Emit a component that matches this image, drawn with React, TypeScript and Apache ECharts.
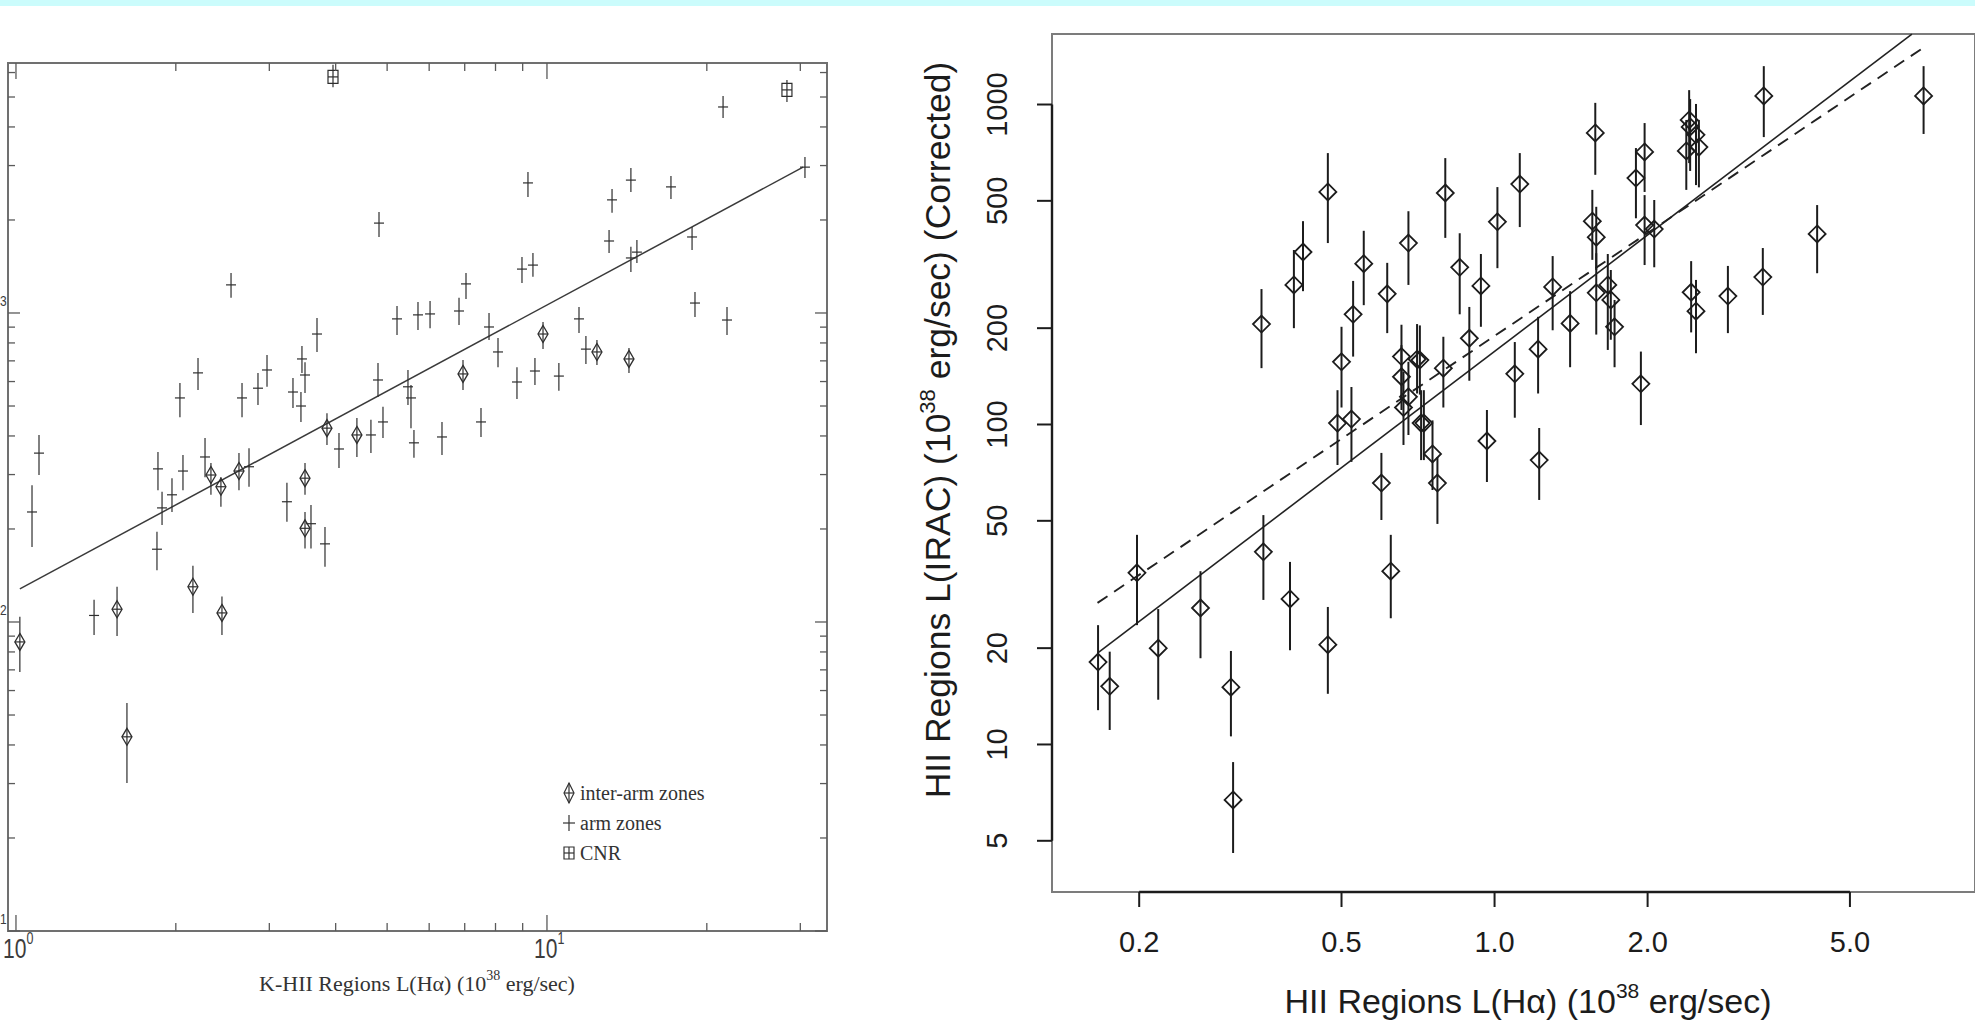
import React, { useEffect, useRef } from 'react';
import * as echarts from 'echarts';

const W = 1975;
const H = 1034;

// ---------------- Left panel (K-HII regions) ----------------
const L_XMIN = 0.966, L_XMAX = 33.68, L_YMIN = 10, L_YMAX = 6442;

// arm zones (+)
const armX = [1.072, 1.105, 1.403, 1.843, 1.851, 1.884, 1.967, 2.036, 2.063, 2.202, 2.27, 2.541, 2.665, 2.747, 2.856, 2.97, 3.238, 3.324, 3.441, 3.456, 3.502, 3.594, 3.689, 3.819, 4.058, 4.661, 4.806, 4.827, 4.911, 5.219, 5.473, 5.545, 5.617, 5.716, 6.023, 6.343, 6.829, 7.039, 7.512, 7.778, 8.087, 8.78, 8.973, 9.209, 9.41, 9.492, 10.53, 11.49, 11.84, 13.09, 13.26, 14.39, 14.39, 14.77, 17.12, 18.76, 19.0, 21.46, 21.83, 30.61];
const armY = [227, 352, 105, 172, 313, 234, 258, 531, 308, 640, 342, 1233, 531, 318, 571, 654, 245, 555, 500, 710, 630, 208, 855, 179, 363, 403, 607, 1954, 444, 957, 577, 531, 380, 986, 993, 397, 1015, 1242, 444, 901, 748, 598, 1387, 2636, 1429, 649, 625, 957, 764, 1710, 2323, 2692, 1507, 1574, 2559, 1762, 1077, 4642, 949, 2965];
const armLo = [175, 299, 90.8, 147, 267, 206, 227, 460, 267, 563, 294, 1120, 460, 274, 504, 577, 211, 493, 444, 640, 551, 173, 748, 151, 315, 352, 535, 1762, 394, 849, 504, 424, 340, 881, 893, 347, 914, 1109, 397, 818, 668, 527, 1250, 2372, 1309, 585, 560, 861, 684, 1563, 2109, 2465, 1358, 1452, 2339, 1599, 971, 4276, 849, 2735];
const armHi = [277, 403, 118, 196, 355, 264, 292, 593, 347, 715, 394, 1346, 593, 365, 640, 731, 282, 616, 555, 782, 693, 239, 964, 203, 409, 451, 689, 2123, 497, 1054, 654, 585, 418, 1086, 1094, 444, 1120, 1346, 493, 1000, 830, 668, 1517, 2858, 1563, 715, 689, 1045, 843, 1857, 2518, 2944, 1637, 1722, 2773, 1897, 1169, 5035, 1045, 3199];

// inter-arm zones (diamonds)
const interX = [1.017, 1.55, 1.618, 2.154, 2.329, 2.432, 2.443, 2.63, 3.502, 3.502, 3.852, 4.386, 6.948, 9.83, 12.42, 14.27];
const interY = [86.2, 110, 42.5, 130, 299, 274, 107, 308, 292, 201, 424, 403, 635, 855, 748, 710];
const interLo = [68.9, 90.1, 30.1, 107, 258, 236, 90.8, 267, 258, 173, 374, 342, 563, 764, 679, 640];
const interHi = [104, 130, 54.7, 152, 327, 294, 121, 352, 327, 227, 474, 457, 705, 935, 818, 771];

// CNR (squares)
const cnrX = [3.954, 28.31];
const cnrY = [5808, 5272];
const cnrLo = [5382, 4820];
const cnrHi = [6356, 5677];

// fit line
const leftFitX = [1.017, 30.36];
const leftFitY = [128, 2965];

const leftXTicks = [1, 2, 3, 4, 5, 6, 7, 8, 9, 10, 20, 30];
const leftYTicks = [10, 20, 30, 40, 50, 60, 70, 80, 90, 100, 200, 300, 400, 500, 600, 700, 800, 900, 1000, 2000, 3000, 4000, 5000, 6000];

const legendLabels = ['inter-arm zones', 'arm zones', 'CNR'];
const leftXTitle = 'K-HII Regions L(Hα) (10{s|38} erg/sec)';

// ---------------- Right panel (HII regions) ----------------
const R_XMIN = 0.13475, R_XMAX = 8.81, R_YMIN = 3.459, R_YMAX = 1661;

const rX = [0.166, 0.175, 0.198, 0.218, 0.264, 0.303, 0.306, 0.348, 0.351, 0.396, 0.403, 0.42, 0.47, 0.47, 0.491, 0.5, 0.523, 0.527, 0.553, 0.599, 0.615, 0.625, 0.656, 0.656, 0.662, 0.677, 0.677, 0.704, 0.713, 0.717, 0.726, 0.755, 0.772, 0.793, 0.8, 0.854, 0.892, 0.94, 0.966, 1.013, 1.096, 1.121, 1.218, 1.224, 1.301, 1.408, 1.557, 1.578, 1.585, 1.585, 1.67, 1.693, 1.722, 1.897, 1.94, 1.973, 1.973, 2.061, 2.383, 2.414, 2.425, 2.49, 2.523, 2.436, 2.49, 2.877, 3.37, 3.385, 4.31, 6.98];
const rY = [18.1, 15.2, 34.4, 20.0, 26.7, 15.1, 6.71, 206, 40.0, 28.5, 273, 346, 533, 20.5, 101, 157, 104, 221, 318, 65.6, 256, 34.8, 163, 141, 113, 122, 369, 160, 159, 101, 101, 80.9, 65.6, 150, 529, 310, 186, 271, 88.8, 430, 144, 564, 172, 77.4, 269, 207, 432, 815, 385, 258, 273, 245, 202, 589, 134, 711, 420, 408, 716, 895, 851, 804, 736, 259, 226, 252, 289, 1064, 394, 1064];
const rLo = [12.8, 11.1, 23.6, 13.8, 18.6, 10.6, 4.58, 150, 28.3, 19.7, 200, 261, 369, 14.4, 74.7, 113, 76.4, 163, 236, 50.3, 193, 24.8, 119, 111, 86.3, 92.7, 273, 125, 124, 77.4, 77.4, 62.4, 48.9, 113, 383, 221, 137, 202, 66.1, 308, 105, 414, 125, 58.1, 197, 151, 327, 603, 304, 191, 171, 184, 151, 441, 99.6, 533, 315, 310, 541, 656, 620, 560, 551, 194, 167, 193, 220, 791, 297, 809];
const rHi = [23.6, 19.5, 45.2, 26.5, 34.8, 19.6, 8.81, 265, 52.1, 37.2, 351, 432, 705, 26.9, 128, 202, 131, 281, 403, 81.5, 320, 45.2, 205, 177, 146, 157, 464, 206, 204, 128, 128, 103, 79.1, 188, 680, 396, 233, 341, 111, 552, 181, 705, 217, 97.5, 336, 261, 541, 1012, 479, 343, 341, 304, 245, 731, 169, 875, 521, 503, 895, 1109, 1040, 1004, 895, 324, 283, 313, 356, 1318, 485, 1318];

const rSolidX = [0.1656, 6.62];
const rSolidY = [19.3, 1660];
const rDashX = [0.1656, 7.01];
const rDashY = [27.7, 1514];

const rightXTicks = [0.2, 0.5, 1.0, 2.0, 5.0];
const rightXTickLabels = ['0.2', '0.5', '1.0', '2.0', '5.0'];
const rightYTicks = [5, 10, 20, 50, 100, 200, 500, 1000];
const rightYTickLabels = ['5', '10', '20', '50', '100', '200', '500', '1000'];
const rightXTitle = 'HII Regions L(Hα) (10{s|38} erg/sec)';
const rightYTitle = 'HII Regions L(IRAC) (10{s|38} erg/sec) (Corrected)';

// ---------------- styling ----------------
const SANS = "'Liberation Sans', Arial, Helvetica, sans-serif";
const SERIF = "'Liberation Serif', 'Times New Roman', serif";
const LEFT_INK = '#333333';
const RIGHT_INK = '#1c1c1c';

const isPow10 = (v: number) => Math.abs(Math.log10(v) - Math.round(Math.log10(v))) < 1e-6;

const leftRich = {
  b: { fontFamily: SANS, fontSize: 27, lineHeight: 38, fill: '#3c3c3c' },
  s: { fontFamily: SANS, fontSize: 16, lineHeight: 16, fill: '#3c3c3c', verticalAlign: 'top' },
};

function buildOption(): any {
  const lTick = { stroke: '#5a5a5a', lineWidth: 1.3 };
  const lErr = { stroke: '#2e2e2e', lineWidth: 1.2 };

  const armData = armX.map((x, i) => [x, armY[i], armLo[i], armHi[i]]);
  const interData = interX.map((x, i) => [x, interY[i], interLo[i], interHi[i]]);
  const cnrData = cnrX.map((x, i) => [x, cnrY[i], cnrLo[i], cnrHi[i]]);
  const rData = rX.map((x, i) => [x, rY[i], rLo[i], rHi[i]]);

  const errLine = (api: any, style: any) => {
    const x = api.value(0);
    const c = api.coord([x, api.value(1)]);
    const lo = api.coord([x, api.value(2)]);
    const hi = api.coord([x, api.value(3)]);
    return { c, bar: { type: 'line', shape: { x1: c[0], y1: lo[1], x2: c[0], y2: hi[1] }, style } };
  };

  const axisBase = {
    type: 'log',
    logBase: 10,
    axisLine: { show: false },
    axisTick: { show: false },
    axisLabel: { show: false },
    splitLine: { show: false },
  };

  const series: any[] = [
    // ----- left panel -----
    {
      type: 'line', xAxisIndex: 0, yAxisIndex: 0, showSymbol: false, symbol: 'none',
      data: leftFitX.map((x, i) => [x, leftFitY[i]]),
      lineStyle: { color: '#3a3a3a', width: 1.5 }, z: 3,
    },
    {
      type: 'custom', xAxisIndex: 0, yAxisIndex: 0, data: armData, z: 4,
      renderItem: (_p: any, api: any) => {
        const { c, bar } = errLine(api, lErr);
        return {
          type: 'group', children: [
            bar,
            { type: 'line', shape: { x1: c[0] - 5, y1: c[1], x2: c[0] + 5, y2: c[1] }, style: lErr },
          ],
        };
      },
    },
    {
      type: 'custom', xAxisIndex: 0, yAxisIndex: 0, data: interData, z: 4,
      renderItem: (_p: any, api: any) => {
        const { c, bar } = errLine(api, lErr);
        const w = 5, h = 8.5;
        return {
          type: 'group', children: [
            bar,
            { type: 'polygon', shape: { points: [[c[0], c[1] - h], [c[0] + w, c[1]], [c[0], c[1] + h], [c[0] - w, c[1]]] }, style: { fill: 'none', stroke: '#2e2e2e', lineWidth: 1.3 } },
            { type: 'line', shape: { x1: c[0] - w, y1: c[1], x2: c[0] + w, y2: c[1] }, style: lErr },
          ],
        };
      },
    },
    {
      type: 'custom', xAxisIndex: 0, yAxisIndex: 0, data: cnrData, z: 4,
      renderItem: (_p: any, api: any) => {
        const { c, bar } = errLine(api, lErr);
        return {
          type: 'group', children: [
            bar,
            { type: 'rect', shape: { x: c[0] - 5, y: c[1] - 6.5, width: 10, height: 13 }, style: { fill: 'none', stroke: '#2e2e2e', lineWidth: 1.2 } },
            { type: 'line', shape: { x1: c[0] - 5, y1: c[1], x2: c[0] + 5, y2: c[1] }, style: lErr },
          ],
        };
      },
    },
    {
      type: 'custom', xAxisIndex: 0, yAxisIndex: 0, clip: false, z: 5,
      data: leftXTicks.map((v) => [v, L_YMIN]),
      renderItem: (_p: any, api: any) => {
        const v = api.value(0);
        const b = api.coord([v, L_YMIN]);
        const t = api.coord([v, L_YMAX]);
        const major = isPow10(v);
        const len = major ? 16 : 8;
        const children: any[] = [
          { type: 'line', shape: { x1: b[0], y1: b[1], x2: b[0], y2: b[1] - len }, style: lTick },
          { type: 'line', shape: { x1: t[0], y1: t[1], x2: t[0], y2: t[1] + len }, style: lTick },
        ];
        if (major) {
          children.push({
            type: 'text', x: b[0] - 13, y: b[1] + 18, scaleX: 0.78,
            style: { text: `{b|10}{s|${Math.round(Math.log10(v))}}`, rich: leftRich, align: 'left', verticalAlign: 'middle' },
          });
        }
        return { type: 'group', children };
      },
    },
    {
      type: 'custom', xAxisIndex: 0, yAxisIndex: 0, clip: false, z: 5,
      data: leftYTicks.map((v) => [L_XMIN, v]),
      renderItem: (_p: any, api: any) => {
        const v = api.value(1);
        const l = api.coord([L_XMIN, v]);
        const r = api.coord([L_XMAX, v]);
        const major = isPow10(v);
        const len = major ? 12 : 7;
        const children: any[] = [
          { type: 'line', shape: { x1: l[0], y1: l[1], x2: l[0] + len, y2: l[1] }, style: lTick },
          { type: 'line', shape: { x1: r[0], y1: r[1], x2: r[0] - len, y2: r[1] }, style: lTick },
        ];
        if (major) {
          // only the exponent of "10^n" is visible at the picture's left edge
          children.push({
            type: 'text', x: 0, y: l[1] - 12, scaleX: 0.8,
            style: { text: String(Math.round(Math.log10(v))), fontFamily: SANS, fontSize: 15, fill: '#3c3c3c', align: 'left', verticalAlign: 'middle' },
          });
        }
        return { type: 'group', children };
      },
    },

    // ----- right panel -----
    {
      type: 'line', xAxisIndex: 1, yAxisIndex: 1, showSymbol: false, symbol: 'none',
      data: rSolidX.map((x, i) => [x, rSolidY[i]]),
      lineStyle: { color: '#222', width: 1.6 }, z: 3,
    },
    {
      type: 'line', xAxisIndex: 1, yAxisIndex: 1, showSymbol: false, symbol: 'none',
      data: rDashX.map((x, i) => [x, rDashY[i]]),
      lineStyle: { color: '#222', width: 1.9, type: [12, 8] }, z: 3,
    },
    {
      type: 'custom', xAxisIndex: 1, yAxisIndex: 1, data: rData, z: 4,
      renderItem: (_p: any, api: any) => {
        const { c, bar } = errLine(api, { stroke: RIGHT_INK, lineWidth: 2 });
        const s = 8.5;
        return {
          type: 'group', children: [
            bar,
            { type: 'polygon', shape: { points: [[c[0], c[1] - s], [c[0] + s, c[1]], [c[0], c[1] + s], [c[0] - s, c[1]]] }, style: { fill: 'none', stroke: RIGHT_INK, lineWidth: 1.8 } },
          ],
        };
      },
    },
    {
      type: 'custom', xAxisIndex: 1, yAxisIndex: 1, clip: false, z: 5,
      data: rightXTicks.map((v) => [v, R_YMIN]),
      renderItem: (p: any, api: any) => {
        const v = api.value(0);
        const b = api.coord([v, R_YMIN]);
        const children: any[] = [
          { type: 'line', shape: { x1: b[0], y1: b[1], x2: b[0], y2: b[1] + 15 }, style: { stroke: RIGHT_INK, lineWidth: 2 } },
          {
            type: 'text', x: b[0], y: 942,
            style: { text: rightXTickLabels[p.dataIndex], fontFamily: SANS, fontSize: 29, fill: RIGHT_INK, align: 'center', verticalAlign: 'middle' },
          },
        ];
        if (p.dataIndex === 0) {
          const e = api.coord([rightXTicks[rightXTicks.length - 1], R_YMIN]);
          children.push({ type: 'line', shape: { x1: b[0], y1: b[1], x2: e[0], y2: e[1] }, style: { stroke: RIGHT_INK, lineWidth: 2.4 } });
        }
        return { type: 'group', children };
      },
    },
    {
      type: 'custom', xAxisIndex: 1, yAxisIndex: 1, clip: false, z: 5,
      data: rightYTicks.map((v) => [R_XMIN, v]),
      renderItem: (p: any, api: any) => {
        const v = api.value(1);
        const l = api.coord([R_XMIN, v]);
        const children: any[] = [
          { type: 'line', shape: { x1: l[0], y1: l[1], x2: l[0] - 15, y2: l[1] }, style: { stroke: RIGHT_INK, lineWidth: 2 } },
          {
            type: 'text', x: 997, y: l[1], rotation: Math.PI / 2,
            style: { text: rightYTickLabels[p.dataIndex], fontFamily: SANS, fontSize: 29, fill: RIGHT_INK, align: 'center', verticalAlign: 'middle' },
          },
        ];
        if (p.dataIndex === 0) {
          const e = api.coord([R_XMIN, rightYTicks[rightYTicks.length - 1]]);
          children.push({ type: 'line', shape: { x1: l[0], y1: l[1], x2: e[0], y2: e[1] }, style: { stroke: RIGHT_INK, lineWidth: 2.4 } });
        }
        return { type: 'group', children };
      },
    },
  ];

  const legendY = [793, 823, 853];
  const lx = 569;
  const legendStroke = { stroke: '#333', lineWidth: 1.2, fill: 'none' };

  const graphic: any[] = [
    { type: 'rect', shape: { x: 0, y: 0, width: W, height: 6 }, style: { fill: '#cbfcfc' }, z: 10 },
    // legend symbols
    { type: 'polygon', shape: { points: [[lx, legendY[0] - 10], [lx + 5, legendY[0]], [lx, legendY[0] + 10], [lx - 5, legendY[0]]] }, style: legendStroke, z: 10 },
    { type: 'line', shape: { x1: lx - 5, y1: legendY[0], x2: lx + 5, y2: legendY[0] }, style: legendStroke, z: 10 },
    { type: 'line', shape: { x1: lx, y1: legendY[0] - 10, x2: lx, y2: legendY[0] + 10 }, style: legendStroke, z: 10 },
    { type: 'line', shape: { x1: lx - 6, y1: legendY[1], x2: lx + 6, y2: legendY[1] }, style: legendStroke, z: 10 },
    { type: 'line', shape: { x1: lx, y1: legendY[1] - 8, x2: lx, y2: legendY[1] + 8 }, style: legendStroke, z: 10 },
    { type: 'rect', shape: { x: lx - 5, y: legendY[2] - 6, width: 10, height: 12 }, style: legendStroke, z: 10 },
    { type: 'line', shape: { x1: lx - 5, y1: legendY[2], x2: lx + 5, y2: legendY[2] }, style: legendStroke, z: 10 },
    { type: 'line', shape: { x1: lx, y1: legendY[2] - 6, x2: lx, y2: legendY[2] + 6 }, style: legendStroke, z: 10 },
    ...legendLabels.map((t, i) => ({
      type: 'text', x: 580, y: legendY[i], z: 10,
      style: { text: t, fontFamily: SERIF, fontSize: 20, fill: LEFT_INK, align: 'left', verticalAlign: 'middle' },
    })),
    {
      type: 'text', x: 417, y: 983, z: 10,
      style: {
        text: leftXTitle, fontFamily: SERIF, fontSize: 22, lineHeight: 30, fill: LEFT_INK, align: 'center', verticalAlign: 'middle',
        rich: { s: { fontFamily: SERIF, fontSize: 14, lineHeight: 14, fill: LEFT_INK, verticalAlign: 'top' } },
      },
    },
    {
      type: 'text', x: 1528, y: 1001, z: 10,
      style: {
        text: rightXTitle, fontFamily: SANS, fontSize: 34, lineHeight: 42, fill: RIGHT_INK, align: 'center', verticalAlign: 'middle',
        rich: { s: { fontFamily: SANS, fontSize: 21, lineHeight: 21, fill: RIGHT_INK, verticalAlign: 'top' } },
      },
    },
    {
      type: 'text', x: 938, y: 430, rotation: Math.PI / 2, z: 10,
      style: {
        text: rightYTitle, fontFamily: SANS, fontSize: 35.5, lineHeight: 44, fill: RIGHT_INK, align: 'center', verticalAlign: 'middle',
        rich: { s: { fontFamily: SANS, fontSize: 22, lineHeight: 22, fill: RIGHT_INK, verticalAlign: 'top' } },
      },
    },
  ];

  return {
    animation: false,
    backgroundColor: '#ffffff',
    grid: [
      { left: 8, top: 63, width: 819, height: 868, show: true, borderColor: '#707070', borderWidth: 2, backgroundColor: 'transparent' },
      { left: 1052, top: 34, width: 953, height: 858, show: true, borderColor: '#7c7c7c', borderWidth: 2, backgroundColor: 'transparent' },
    ],
    xAxis: [
      { ...axisBase, gridIndex: 0, min: L_XMIN, max: L_XMAX },
      { ...axisBase, gridIndex: 1, min: R_XMIN, max: R_XMAX },
    ],
    yAxis: [
      { ...axisBase, gridIndex: 0, min: L_YMIN, max: L_YMAX },
      { ...axisBase, gridIndex: 1, min: R_YMIN, max: R_YMAX },
    ],
    series,
    graphic,
  };
}

export default function App() {
  const ref = useRef<HTMLDivElement>(null);
  useEffect(() => {
    if (!ref.current) return;
    const chart = echarts.init(ref.current, null, { renderer: 'svg', width: W, height: H });
    chart.setOption(buildOption());
    return () => {
      chart.dispose();
    };
  }, []);
  return (
    <div
      ref={ref}
      style={{ position: 'fixed', left: 0, top: 0, width: W, height: H, background: '#ffffff', overflow: 'hidden' }}
    />
  );
}
